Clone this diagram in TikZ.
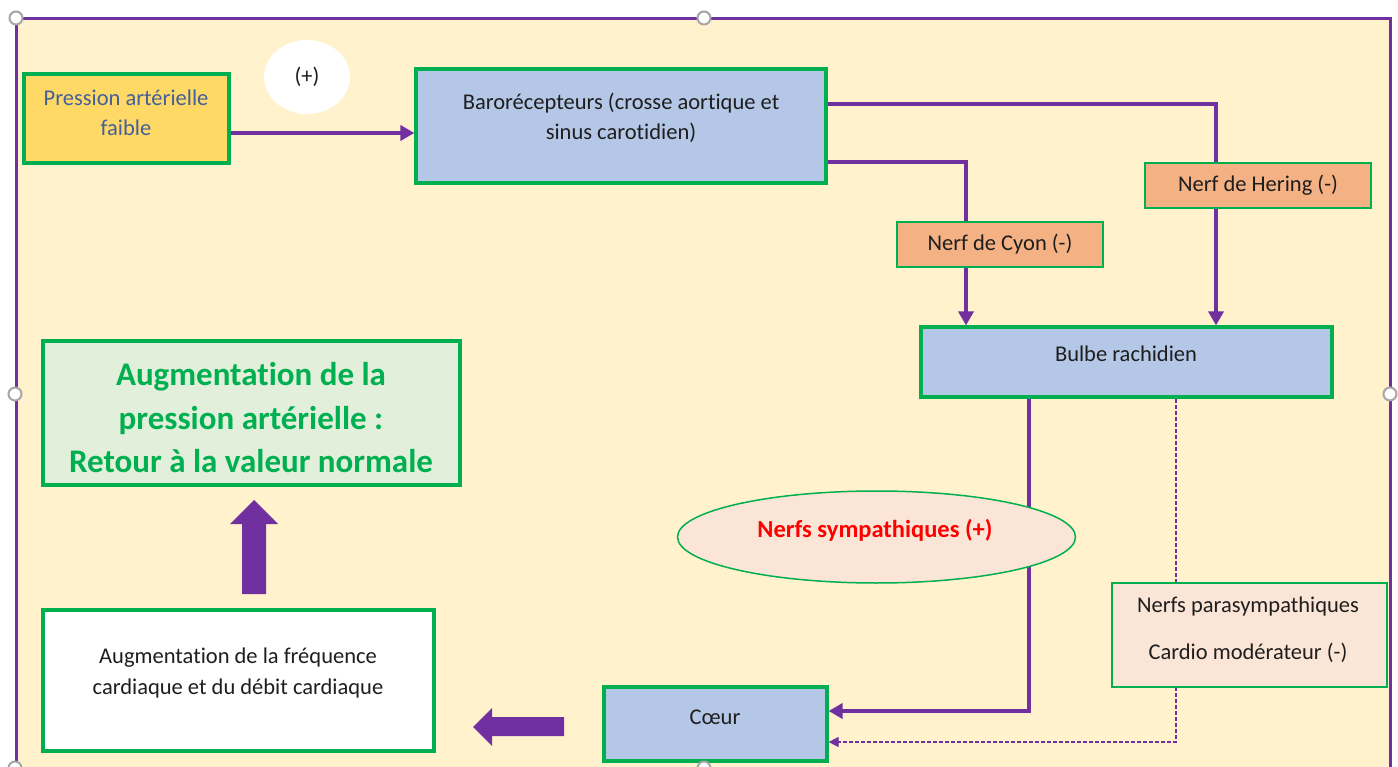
\documentclass[tikz,border=0pt]{standalone}
\usepackage{fontspec}
\setmainfont{Carlito}[Ligatures=NoCommon]
\usetikzlibrary{arrows.meta,shapes.geometric}
\definecolor{purp}{HTML}{7030A0}
\definecolor{grn}{HTML}{00B050}
\definecolor{cream}{HTML}{FFF2CC}
\definecolor{bluebx}{HTML}{B4C7E7}
\definecolor{orng}{HTML}{F4B183}
\definecolor{pinkbx}{HTML}{FBE5D6}
\definecolor{lgrn}{HTML}{E2EFDA}
\definecolor{yel}{HTML}{FFD966}
\definecolor{pblue}{HTML}{44609A}
\definecolor{tdark}{HTML}{1E1E1E}
\definecolor{hgrey}{HTML}{A6A6A6}
\begin{document}
\begin{tikzpicture}[x=1pt,y=-1pt,
  box/.style={draw=grn, line width=3.2pt, inner sep=0pt},
  thinbox/.style={draw=grn, line width=2pt, inner sep=0pt},
  txt/.style={font=\fontsize{22.5}{30.5}\selectfont, text=tdark, align=center, inner sep=0pt},
  conn/.style={draw=purp, line width=4.3pt, -{Triangle[length=14pt,width=15pt]}},
  plainconn/.style={draw=purp, line width=4.3pt},
  dashconn/.style={draw=purp, line width=1.2pt, dash pattern=on 4pt off 2pt, -{Triangle[length=10pt,width=10pt]}},
  handle/.style={circle, draw=hgrey, fill=white, line width=2pt, minimum size=13pt, inner sep=0pt},
  bigarrow/.style={fill=purp}
]
\useasboundingbox (0,0) rectangle (1398,767);
\fill[white] (0,0) rectangle (1398,767);
\fill[cream] (16,19) rectangle (1390,767);
\draw[purp, line width=3pt] (16,767) -- (16,19) -- (1390,19) -- (1390,767);

% boxes
\node[box, fill=yel, minimum width=205pt, minimum height=89pt] (press) at (126.5,118.5) {};
\node[txt, text=pblue] (presstxt) at (126,113) {Pression artérielle\\faible};
\node[ellipse, fill=white, minimum width=86pt, minimum height=74pt, txt] (plus) at (307,77) {(+)};
\node[box, fill=bluebx, minimum width=410pt, minimum height=114pt] (baro) at (621,126) {};
\node[txt] (barotxt) at (621,118) {Barorécepteurs (crosse aortique et\\sinus carotidien)};
\node[thinbox, fill=orng, minimum width=226pt, minimum height=45pt, txt] (hering) at (1258,185.5) {Nerf de Hering (-)};
\node[thinbox, fill=orng, minimum width=206pt, minimum height=45pt, txt] (cyon) at (1000,244.5) {Nerf de Cyon (-)};
\node[box, fill=bluebx, minimum width=411pt, minimum height=70pt] (bulbe) at (1126.5,362) {};
\node[txt] (bulbetxt) at (1126,354) {Bulbe rachidien};
\node[box, fill=bluebx, minimum width=223pt, minimum height=74pt] (coeur) at (715.5,724) {};
\node[txt] (coeurtxt) at (715,717) {Cœur};
\node[box, fill=white, minimum width=391pt, minimum height=141pt] (freq) at (238.5,680.5) {};
\node[txt] (freqtxt) at (238,673) {Augmentation de la fréquence\\cardiaque et du débit cardiaque};
\node[box, fill=lgrn, minimum width=417pt, minimum height=144pt] (result) at (251.5,413) {};
\node[txt, font=\bfseries\fontsize{33}{43.5}\selectfont, text=grn] (resulttxt) at (251,418) {Augmentation de la\\pression artérielle :\\Retour à la valeur normale};

% connectors
\coordinate (p1) at ([yshift=-14.5pt]press.east);
\draw[conn] (p1) -- (p1 -| baro.west);
\draw[plainconn] ([yshift=22pt]baro.east) -| ([xshift=-42pt]hering.north);
\draw[conn] ([xshift=-42pt]hering.south) -- ([xshift=-42pt]hering.south |- bulbe.north);
\draw[plainconn] ([yshift=-36pt]baro.east) -| ([xshift=-34pt]cyon.north);
\draw[conn] ([xshift=-34pt]cyon.south) -- ([xshift=-34pt]cyon.south |- bulbe.north);
\draw[conn] ([xshift=-97.5pt]bulbe.south) |- ([yshift=13pt]coeur.east);
\draw[dashconn] ([xshift=49.5pt]bulbe.south) |- ([yshift=-18pt]coeur.east);

% nodes drawn over connectors
\node[ellipse, draw=grn, line width=1.5pt, fill=pinkbx, minimum width=398pt, minimum height=92pt] (symp) at (876.5,537) {};
\node[txt, font=\bfseries\fontsize{24.5}{30}\selectfont, text=red] (symptxt) at (875,530) {Nerfs sympathiques (+)};
\node[thinbox, fill=pinkbx, minimum width=275pt, minimum height=104pt] (para) at (1249.5,635) {};
\node[txt, font=\fontsize{22.5}{47}\selectfont] (paratxt) at (1248,630) {Nerfs parasympathiques\\Cardio modérateur (-)};

% block arrows
\fill[bigarrow] (564,717) -- (492,717) -- (492,708) -- (473,727) -- (492,746) -- (492,736) -- (564,736) -- cycle;
\fill[bigarrow] (242,594) -- (242,524) -- (230,524) -- (254,500) -- (278,524) -- (266,524) -- (266,594) -- cycle;

% selection handles
\node[handle] (h1) at (16,18) {};
\node[handle] (h2) at (704,18) {};
\node[handle] (h3) at (15,394) {};
\node[handle] (h4) at (1390,394) {};
\node[handle] (h5) at (704,768) {};
\node[handle] (h6) at (15,768) {};
\end{tikzpicture}
\end{document}
